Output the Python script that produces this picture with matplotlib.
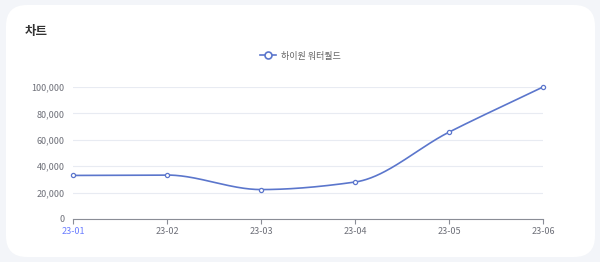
import numpy as np
import matplotlib
matplotlib.use("Agg")
import matplotlib.pyplot as plt
from matplotlib.patches import FancyBboxPatch
from matplotlib.lines import Line2D

plt.rcParams['font.family'] = ['Noto Sans CJK KR', 'DejaVu Sans']

categories = ["23-01", "23-02", "23-03", "23-04", "23-05", "23-06"]
values = [33000, 33300, 22300, 28000, 65800, 100000]
series_name = "하이원 워터월드"
title = "차트"
yticks = [0, 20000, 40000, 60000, 80000, 100000]

W, H = 600, 262
fig = plt.figure(figsize=(W / 100, H / 100), dpi=100)
fig.patch.set_facecolor("#f3f5f9")

card = FancyBboxPatch((6 / W, 5 / H), 589 / W, 252 / H,
                      boxstyle="round,pad=0,rounding_size=0.035",
                      transform=fig.transFigure, facecolor="white",
                      edgecolor="none", mutation_aspect=W / H, zorder=-10)
fig.patches.append(card)

fig.text(25 / W, 1 - 32 / H, title, fontsize=9, fontweight="bold",
         color="#333333", va="center", ha="left")

ax = fig.add_axes([73 / W, 43 / H, 470 / W, 132 / H])
ax.set_facecolor("none")
ax.set_zorder(2)

x = np.arange(len(categories))
y = np.array(values, dtype=float)

# monotone cubic (PCHIP) smoothing for rendering
def pchip(xk, yk, xs):
    h = np.diff(xk)
    d = np.diff(yk) / h
    n = len(xk)
    m = np.zeros(n)
    for k in range(1, n - 1):
        if d[k - 1] * d[k] <= 0:
            m[k] = 0
        else:
            w1 = 2 * h[k] + h[k - 1]
            w2 = h[k] + 2 * h[k - 1]
            m[k] = (w1 + w2) / (w1 / d[k - 1] + w2 / d[k])
    m[0] = d[0]
    m[-1] = d[-1]
    out = np.empty_like(xs)
    for i, xv in enumerate(xs):
        k = min(np.searchsorted(xk, xv, side="right") - 1, n - 2)
        t = (xv - xk[k]) / h[k]
        h00 = 2 * t**3 - 3 * t**2 + 1
        h10 = t**3 - 2 * t**2 + t
        h01 = -2 * t**3 + 3 * t**2
        h11 = t**3 - t**2
        out[i] = h00 * yk[k] + h10 * h[k] * m[k] + h01 * yk[k + 1] + h11 * h[k] * m[k + 1]
    return out

xs = np.linspace(x[0], x[-1], 400)
ys = pchip(x.astype(float), y, xs)

color = "#5b76cc"
ax.plot(xs, ys, color=color, lw=1.2, solid_capstyle="round", zorder=3, clip_on=False)
ax.plot(x, y, ls="none", marker="o", ms=3.0, mfc="white", mec=color, mew=0.9,
        zorder=4, clip_on=False)

ax.set_xlim(x[0], x[-1])
ax.set_ylim(0, 100000)
ax.set_yticks(yticks)
ax.set_yticklabels([f"{v:,}" for v in yticks])
ax.set_xticks(x)
ax.set_xticklabels(categories)
ax.grid(axis="y", color="#e8ebf2", lw=0.8)
ax.set_axisbelow(True)
for s in ["top", "right", "left"]:
    ax.spines[s].set_visible(False)
ax.spines["bottom"].set_color("#8a8d96")
ax.spines["bottom"].set_linewidth(0.8)
ax.tick_params(axis="y", length=0, labelsize=6.5, labelcolor="#6e7079", pad=6)
ax.tick_params(axis="x", length=3.5, width=0.8, color="#8a8d96",
               labelsize=6.5, labelcolor="#6e7079", pad=2.5)
ax.get_xticklabels()[0].set_color("#6a7dff")

handle = Line2D([], [], color=color, lw=1.2, marker="o", ms=5.0, mfc="white",
                mec=color, mew=1.2)
leg = fig.legend([handle], [series_name], loc="center", bbox_to_anchor=(300 / W, 1 - 56 / H),
                 frameon=False, fontsize=6.5, handlelength=1.8, handletextpad=0.5,
                 labelcolor="#666666")

fig.savefig("out.png", dpi=100, facecolor=fig.get_facecolor())
